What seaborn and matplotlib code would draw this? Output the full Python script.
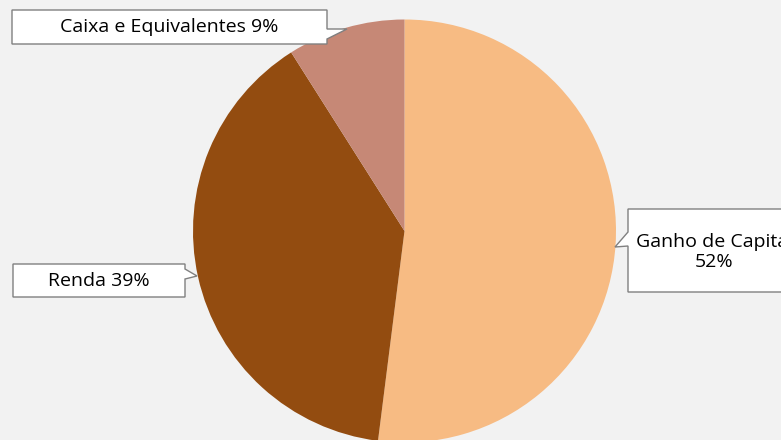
import matplotlib
matplotlib.use("Agg")
import matplotlib.pyplot as plt
import seaborn as sns
from matplotlib.patches import Polygon

categories = ["Ganho de Capital", "Renda", "Caixa e Equivalentes"]
values = [52, 39, 9]
colors = ["#F7BB83", "#934C10", "#C68876"]
labels = ["Ganho de Capital\n52%", "Renda 39%", "Caixa e Equivalentes 9%"]

sns.set_theme(style="white")
plt.rcParams['font.family'] = ['Open Sans', 'DejaVu Sans']

W, H = 781, 440
fig = plt.figure(figsize=(W / 100, H / 100), dpi=100)
fig.patch.set_facecolor("#F2F2F2")

cx, cy, r = 404.5, 231.0, 211.5
ax = fig.add_axes([(cx - r) / W, (H - cy - r) / H, 2 * r / W, 2 * r / H])
ax.set_facecolor("#F2F2F2")
ax.pie(values, colors=colors, startangle=90, counterclock=False,
       wedgeprops=dict(linewidth=0))
ax.set_xlim(-1, 1)
ax.set_ylim(-1, 1)
ax.set_aspect("equal")
ax.axis("off")


def px(pts):
    return [(x / W, (H - y) / H) for x, y in pts]


callouts = [
    ([(12, 10), (327, 10), (327, 29), (347, 29), (327, 39), (327, 44), (12, 44)], (169.5, 27.5)),
    ([(628, 209), (800, 209), (800, 292), (628, 292), (628, 246), (615, 247), (628, 232)], (714, 252)),
    ([(13, 264), (185, 264), (185, 269), (197, 276), (185, 279), (185, 297), (13, 297)], (99, 281)),
]

for (poly, (tx, ty)), lab in zip(callouts, [labels[2], labels[0], labels[1]]):
    fig.patches.append(Polygon(px(poly), closed=True, facecolor="white",
                               edgecolor="#808080", linewidth=1.0,
                               transform=fig.transFigure, figure=fig))
    fig.text(tx / W, (H - ty) / H, lab, ha="center", va="center",
             fontsize=14, color="black", linespacing=1.15, fontweight="medium")

fig.savefig("out.png", dpi=100, facecolor=fig.get_facecolor())
